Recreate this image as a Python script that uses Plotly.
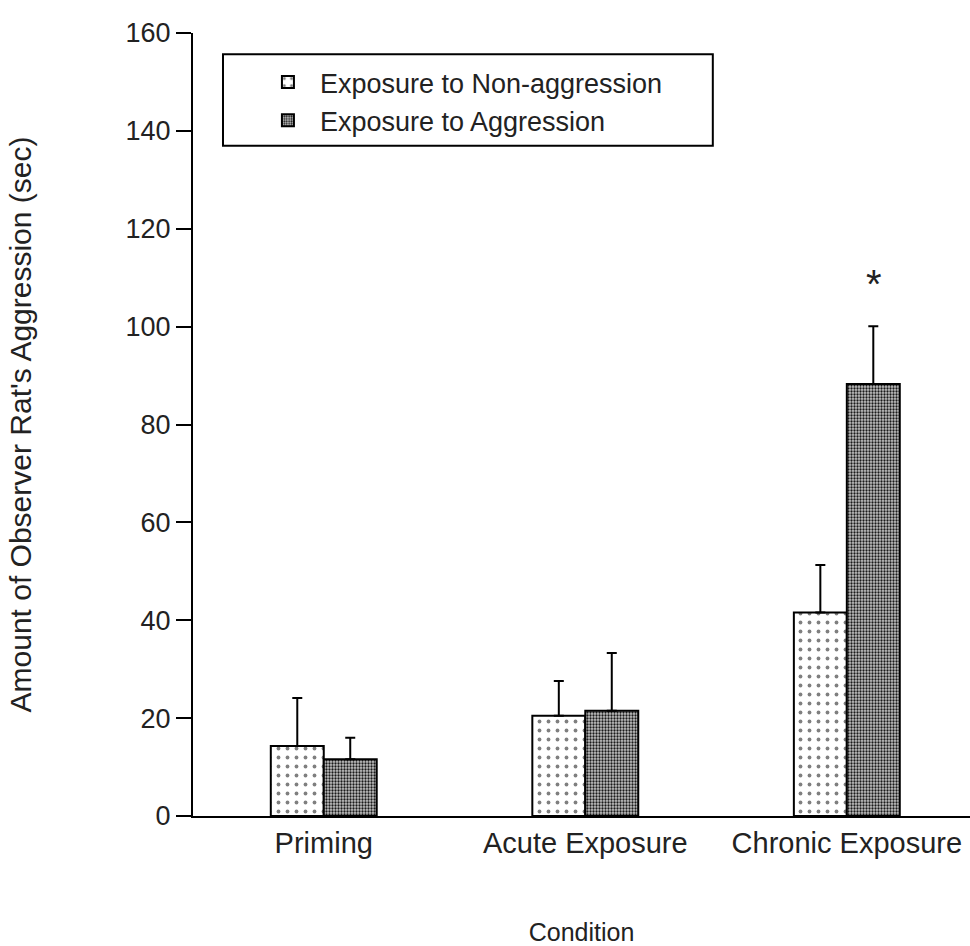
import plotly.graph_objects as go

categories = ["Priming", "Acute Exposure", "Chronic Exposure"]
non_aggr = [14.3, 20.5, 41.6]
non_aggr_err = [9.8, 7.1, 9.7]
aggr = [11.6, 21.5, 88.3]
aggr_err = [4.4, 11.8, 11.8]
series_names = ["Exposure to Non-aggression", "Exposure to Aggression"]

FONT = "Liberation Sans, Arial, sans-serif"
TXT = "#222222"

fig = go.Figure()
fig.add_trace(go.Bar(
    x=categories, y=non_aggr, name=series_names[0],
    marker=dict(color="white", line=dict(color="black", width=2),
                pattern=dict(shape=".", fgcolor="black", bgcolor="white",
                             size=9, solidity=0.14, fillmode="overlay")),
    error_y=dict(type="data", array=non_aggr_err, arrayminus=[0, 0, 0],
                 symmetric=False, color="black", thickness=2, width=5),
))
fig.add_trace(go.Bar(
    x=categories, y=aggr, name=series_names[1],
    marker=dict(color="#888888", line=dict(color="black", width=2),
                pattern=dict(shape=".", fgcolor="#1a1a1a", bgcolor="#c4c4c4",
                             size=3, solidity=0.45, fillmode="replace")),
    error_y=dict(type="data", array=aggr_err, arrayminus=[0, 0, 0],
                 symmetric=False, color="black", thickness=2, width=5),
))

# significance star above chronic aggression bar
fig.add_annotation(x=2, y=aggr[2] + aggr_err[2], xshift=27, yshift=42,
                   text="*", showarrow=False,
                   font=dict(family=FONT, size=40, color=TXT))

# legend frame
fig.add_shape(type="rect", xref="paper", yref="paper",
              x0=0.0386, x1=0.669, y0=0.856, y1=0.973,
              line=dict(color="black", width=2), fillcolor="rgba(0,0,0,0)")

fig.update_layout(
    width=970, height=946,
    margin=dict(l=193, r=0, t=33, b=130, autoexpand=False),
    plot_bgcolor="white", paper_bgcolor="white",
    barmode="group", bargap=0.595, bargroupgap=0,
    font=dict(family=FONT, size=22, color=TXT),
    showlegend=True,
    legend=dict(x=0.081, y=0.968, xanchor="left", yanchor="top",
                bgcolor="rgba(0,0,0,0)", borderwidth=0,
                font=dict(family=FONT, size=27, color=TXT),
                tracegroupgap=0, itemwidth=54),
    xaxis=dict(range=[-0.5, 2.471], showline=True, linecolor="black", linewidth=2,
               ticks="", showgrid=False, zeroline=False,
               tickfont=dict(family=FONT, size=29, color=TXT),
               title=dict(text="Condition", font=dict(family=FONT, size=25, color=TXT),
                          standoff=67)),
    yaxis=dict(range=[0, 160], dtick=20, showline=True, linecolor="black", linewidth=2,
               ticks="outside", ticklen=15, tickwidth=2, tickcolor="black",
               showgrid=False, zeroline=False,
               tickfont=dict(family=FONT, size=27, color=TXT),
               title=dict(text="Amount of Observer Rat's Aggression (sec)",
                          font=dict(family=FONT, size=30, color=TXT), standoff=85)),
)

fig.write_html("out.html", config={"displayModeBar": False},
               post_script="document.body.style.margin='0';")
